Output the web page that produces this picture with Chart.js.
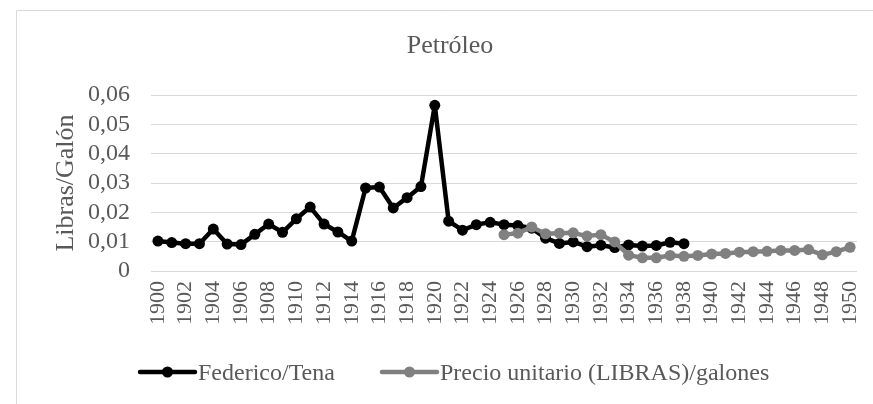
<!DOCTYPE html>
<html>
<head>
<meta charset="utf-8">
<script src="https://cdn.jsdelivr.net/npm/chart.js@4"></script>
<style>
  html, body { margin: 0; padding: 0; background: #fff; }
  #chart { display: block; }
</style>
</head>
<body>
<canvas id="chart" width="873" height="404"></canvas>
<script>
// Years (category axis)
const years = [
  "1900","1901","1902","1903","1904","1905","1906","1907","1908","1909",
  "1910","1911","1912","1913","1914","1915","1916","1917","1918","1919",
  "1920","1921","1922","1923","1924","1925","1926","1927","1928","1929",
  "1930","1931","1932","1933","1934","1935","1936","1937","1938","1939",
  "1940","1941","1942","1943","1944","1945","1946","1947","1948","1949",
  "1950"
];

// Federico/Tena, 1900-1938
const federicoTena = [
  0.0102, 0.0097, 0.0093, 0.0093, 0.0143, 0.0092, 0.0090, 0.0125, 0.0160, 0.0132,
  0.0178, 0.0218, 0.0160, 0.0133, 0.0102, 0.0283, 0.0286, 0.0215, 0.0250, 0.0288,
  0.0565, 0.0170, 0.0139, 0.0158, 0.0166, 0.0158, 0.0155, 0.0146, 0.0112, 0.0094,
  0.0099, 0.0083, 0.0088, 0.0080, 0.0089, 0.0085, 0.0087, 0.0098, 0.0093, null,
  null, null, null, null, null, null, null, null, null, null,
  null
];

// Precio unitario (LIBRAS)/galones, 1925-1950
const precioUnitario = [
  null, null, null, null, null, null, null, null, null, null,
  null, null, null, null, null, null, null, null, null, null,
  null, null, null, null, null, 0.0124, 0.0129, 0.0150, 0.0127, 0.0129,
  0.0130, 0.0119, 0.0124, 0.0099, 0.0054, 0.0045, 0.0045, 0.0053, 0.0050, 0.0053,
  0.0058, 0.0060, 0.0064, 0.0066, 0.0067, 0.0070, 0.0070, 0.0073, 0.0055, 0.0066,
  0.0081
];

const yTicks = [0, 0.01, 0.02, 0.03, 0.04, 0.05, 0.06];

const textColor = "#595959";
const serif = "'Liberation Serif', 'Times New Roman', serif";

// frame, title and legend drawn on top of the chart
const decorPlugin = {
  id: "decor",
  afterDraw(chart) {
    const ctx = chart.ctx;
    ctx.save();
    ctx.strokeStyle = "#d9d9d9";
    ctx.lineWidth = 1;
    ctx.beginPath();
    ctx.moveTo(16.5, 404);
    ctx.lineTo(16.5, 10.5);
    ctx.lineTo(873, 10.5);
    ctx.stroke();

    ctx.fillStyle = textColor;
    ctx.font = "26px " + serif;
    ctx.textAlign = "center";
    ctx.textBaseline = "alphabetic";
    ctx.fillText("Petróleo", 450, 53);

    const items = [
      { x: 140, ds: chart.data.datasets[0] },
      { x: 382, ds: chart.data.datasets[1] }
    ];
    ctx.font = "24px " + serif;
    ctx.textAlign = "left";
    items.forEach(it => {
      const y = 372;
      ctx.strokeStyle = it.ds.borderColor;
      ctx.lineWidth = 4.5;
      ctx.lineCap = "round";
      ctx.beginPath();
      ctx.moveTo(it.x, y);
      ctx.lineTo(it.x + 55, y);
      ctx.stroke();
      ctx.fillStyle = it.ds.pointBackgroundColor;
      ctx.beginPath();
      ctx.arc(it.x + 27.5, y, 5.5, 0, Math.PI * 2);
      ctx.fill();
      ctx.fillStyle = textColor;
      ctx.fillText(it.ds.label, it.x + 58, 380);
    });
    ctx.restore();
  }
};

new Chart(document.getElementById("chart"), {
  type: "line",
  data: {
    labels: years,
    datasets: [
      {
        label: "Federico/Tena",
        data: federicoTena,
        borderColor: "#000000",
        backgroundColor: "#000000",
        pointBackgroundColor: "#000000",
        pointBorderColor: "#000000",
        borderWidth: 4.5,
        borderJoinStyle: "round",
        borderCapStyle: "round",
        pointRadius: 5.5,
        pointBorderWidth: 0,
        tension: 0,
        spanGaps: false,
        order: 1
      },
      {
        label: "Precio unitario (LIBRAS)/galones",
        data: precioUnitario,
        borderColor: "#808080",
        backgroundColor: "#808080",
        pointBackgroundColor: "#808080",
        pointBorderColor: "#808080",
        borderWidth: 4.5,
        borderJoinStyle: "round",
        borderCapStyle: "round",
        pointRadius: 5.5,
        pointBorderWidth: 0,
        tension: 0,
        spanGaps: false,
        order: 0
      }
    ]
  },
  options: {
    responsive: false,
    animation: false,
    devicePixelRatio: 1,
    layout: { padding: { top: 95, right: 16, left: 0, bottom: 0 } },
    plugins: {
      legend: { display: false },
      title: { display: false },
      tooltip: { enabled: false }
    },
    scales: {
      x: {
        type: "category",
        offset: true,
        grid: { display: false, drawTicks: false },
        border: { display: false },
        afterFit(scale) {
          scale.height = 404 - 271;
          scale.paddingLeft = 0;
          scale.paddingRight = 0;
        },
        ticks: {
          autoSkip: false,
          maxRotation: 90,
          minRotation: 90,
          padding: 10,
          color: textColor,
          font: { family: serif, size: 22 },
          callback(value, index) {
            return index % 2 === 0 ? years[index] : "";
          }
        }
      },
      y: {
        min: 0,
        max: 0.06,
        afterFit(scale) { scale.width = 151; },
        afterBuildTicks(scale) {
          scale.ticks = yTicks.map(v => ({ value: v }));
        },
        grid: { color: "#d9d9d9", lineWidth: 1, drawTicks: false },
        border: { display: false },
        ticks: {
          autoSkip: false,
          padding: 21,
          color: textColor,
          font: { family: serif, size: 24 },
          callback(value) {
            return value === 0 ? "0" : value.toFixed(2).replace(".", ",");
          }
        },
        title: {
          display: true,
          text: "Libras/Galón",
          color: textColor,
          font: { family: serif, size: 26 },
          padding: { top: 51, bottom: 0 }
        }
      }
    }
  },
  plugins: [decorPlugin]
});
</script>
</body>
</html>
